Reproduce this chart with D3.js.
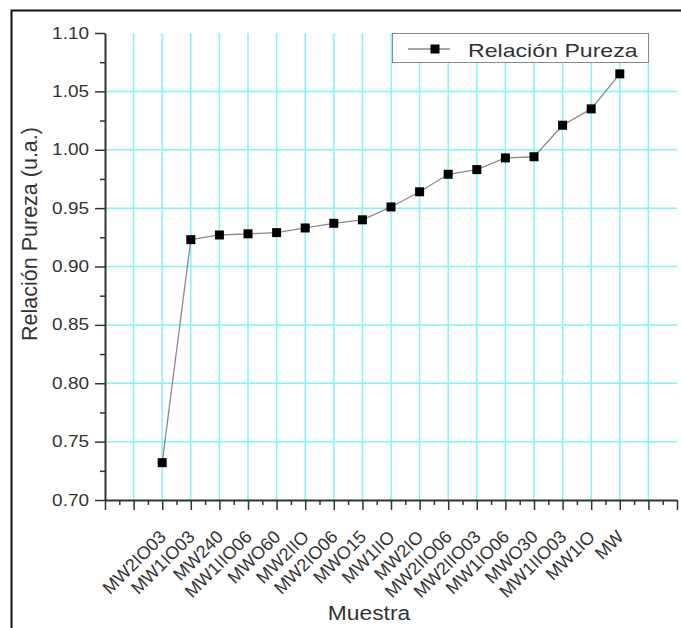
<!DOCTYPE html>
<html><head><meta charset="utf-8">
<script src="https://cdn.jsdelivr.net/npm/d3@7"></script>
<style>
html,body{margin:0;padding:0;background:#fff;}
svg{display:block;font-family:"Liberation Sans",Arial,sans-serif;}
</style></head>
<body><svg id="chart" width="681" height="628"></svg>
<script>
const categories = ["MW2IO03","MW1IO03","MW240","MW1IIO06","MWO60","MW2IIO","MW2IO06","MWO15","MW1IIO","MW2IO","MW2IIO06","MW2IIO03","MW1IO06","MWO30","MW1IIO03","MW1IO","MW"];
const values = [0.732,0.923,0.927,0.928,0.929,0.933,0.937,0.940,0.951,0.964,0.979,0.983,0.993,0.994,1.021,1.035,1.065];
const yTickValues = [0.70,0.75,0.80,0.85,0.90,0.95,1.00,1.05,1.10];
const seriesName = "Relación Pureza";
const xTitle = "Muestra";
const yTitle = "Relación Pureza (u.a.)";

const svg = d3.select("#chart");
const pLeft = 105, pRight = 677, pTop = 33, pBottom = 500;

const x = d3.scaleLinear().domain([0, categories.length + 3]).range([pLeft, pRight]);
const y = d3.scaleLinear().domain([0.70, 1.10]).range([pBottom, pTop]);
const xPos = i => x(i + 2);

// outer frame
svg.append("rect").attr("x", 11.5).attr("y", 10.5).attr("width", 720).attr("height", 720)
  .attr("fill", "none").attr("stroke", "#111").attr("stroke-width", 2);

// grid
const grid = svg.append("g").attr("stroke", "#80f4f8").attr("stroke-width", 1.5);
d3.range(1, categories.length + 3).forEach(v => {
  grid.append("line").attr("x1", x(v)).attr("x2", x(v)).attr("y1", pTop).attr("y2", pBottom);
});
yTickValues.slice(1, -1).forEach(v => {
  grid.append("line").attr("x1", pLeft).attr("x2", pRight).attr("y1", y(v)).attr("y2", y(v));
});

// x axis
const xMajor = d3.range(0, categories.length + 4);
const xMinor = d3.range(0, categories.length + 3).map(v => v + 0.5);
const gx = svg.append("g").attr("transform", `translate(0,${pBottom})`);
gx.call(d3.axisBottom(x).tickValues(xMajor).tickSize(10).tickSizeOuter(0).tickFormat(""));
const gxm = svg.append("g").attr("transform", `translate(0,${pBottom})`);
gxm.call(d3.axisBottom(x).tickValues(xMinor).tickSize(5).tickSizeOuter(0).tickFormat(""));
gxm.select(".domain").remove();
[gx, gxm].forEach(g => {
  g.selectAll("line").attr("stroke", "#333").attr("stroke-width", 1.5);
  g.select(".domain").attr("stroke", "#333").attr("stroke-width", 2);
});

// x tick labels (rotated)
svg.append("g").selectAll("text").data(categories).join("text")
  .attr("transform", (d, i) => `translate(${xPos(i) + 5},${538}) rotate(-45)`)
  .attr("text-anchor", "end")
  .attr("font-size", 18)
  .attr("fill", "#333")
  .text(d => d);

// y axis
const yMinor = d3.range(0, 8).map(i => 0.725 + i * 0.05);
const gy = svg.append("g").attr("transform", `translate(${pLeft},0)`);
gy.call(d3.axisLeft(y).tickValues(yTickValues).tickSize(10).tickSizeOuter(0).tickFormat(""));
const gym = svg.append("g").attr("transform", `translate(${pLeft},0)`);
gym.call(d3.axisLeft(y).tickValues(yMinor).tickSize(5).tickSizeOuter(0).tickFormat(""));
gym.select(".domain").remove();
[gy, gym].forEach(g => {
  g.selectAll("line").attr("stroke", "#333").attr("stroke-width", 1.5);
  g.select(".domain").attr("stroke", "#333").attr("stroke-width", 2);
});
svg.append("g").selectAll("text").data(yTickValues).join("text")
  .attr("transform", d => `translate(89,${y(d) + 5.5}) scale(1.2,1)`)
  .attr("text-anchor", "end")
  .attr("font-size", 15.8)
  .attr("fill", "#333")
  .text(d => d.toFixed(2));

// line + markers
const line = d3.line().x((d, i) => xPos(i)).y(d => y(d));
svg.append("path").datum(values).attr("d", line)
  .attr("fill", "none").attr("stroke", "#8a8a8a").attr("stroke-width", 1.3);
svg.append("g").selectAll("rect").data(values).join("rect")
  .attr("x", (d, i) => xPos(i) - 4.5).attr("y", d => y(d) - 4.5)
  .attr("width", 9).attr("height", 9).attr("fill", "#000");

// legend
const lg = svg.append("g");
lg.append("rect").attr("x", 392.5).attr("y", 33.5).attr("width", 256).attr("height", 29)
  .attr("fill", "#fff").attr("stroke", "#888").attr("stroke-width", 1);
lg.append("line").attr("x1", 408).attr("x2", 450).attr("y1", 49).attr("y2", 49)
  .attr("stroke", "#8a8a8a").attr("stroke-width", 1.3);
lg.append("rect").attr("x", 430.5).attr("y", 44.5).attr("width", 9).attr("height", 9).attr("fill", "#000");
lg.append("text").attr("transform", "translate(468,57) scale(1.25,1)")
  .attr("font-size", 18.5).attr("fill", "#333").text(seriesName);

// axis titles
svg.append("text").attr("transform", "translate(369,620) scale(1.17,1)")
  .attr("text-anchor", "middle").attr("font-size", 19.5).attr("fill", "#333").text(xTitle);
svg.append("text").attr("transform", "translate(37,234) rotate(-90)")
  .attr("text-anchor", "middle").attr("font-size", 21.5).attr("fill", "#333").text(yTitle);
</script></body></html>
